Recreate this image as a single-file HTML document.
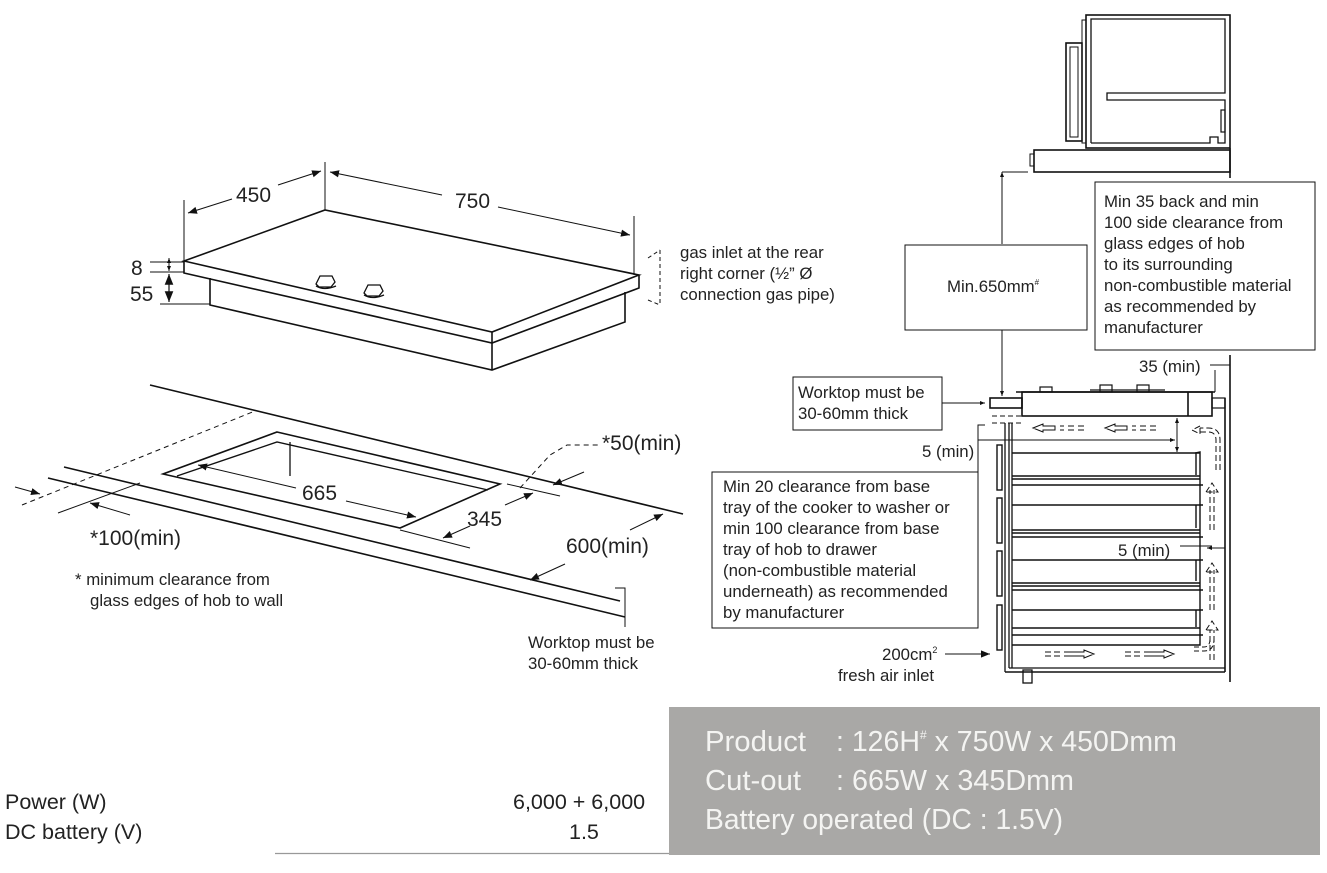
<!DOCTYPE html>
<html><head><meta charset="utf-8"><style>
html,body{margin:0;padding:0;background:#fff;width:1327px;height:873px;overflow:hidden}
svg{display:block}
text{font-family:"Liberation Sans",sans-serif;fill:#222}
</style></head><body>
<svg width="1327" height="873" viewBox="0 0 1327 873" xmlns="http://www.w3.org/2000/svg">
<defs>
<marker id="a" viewBox="0 0 10 10" refX="10" refY="5" markerWidth="9" markerHeight="9" orient="auto-start-reverse"><path d="M0,1 L10,5 L0,9 Z" fill="#111"/></marker>
<marker id="s" viewBox="0 0 10 10" refX="10" refY="5" markerWidth="5" markerHeight="5" orient="auto-start-reverse"><path d="M0,1 L10,5 L0,9 Z" fill="#111"/></marker>
</defs>
<g stroke="#111" stroke-width="1.6" fill="none">
<polygon points="184,261 325,210 639,275 492,332" fill="#fff"/>
<polyline points="184,261 184,273 492,343 639,288 639,275"/>
<line x1="492" y1="332" x2="492" y2="343"/>
<polyline points="210,278 210,305 492,370 625,322 625,292"/>
<line x1="492" y1="343" x2="492" y2="370"/>
<path d="M316,284 l4,-8 h12 l3,6 l-4,5 h-12 z M316,286 q8,5 20,0" stroke-width="1.3"/>
<path d="M364,293 l4,-8 h12 l3,6 l-4,5 h-12 z M364,295 q8,5 20,0" stroke-width="1.3"/>
<line x1="184" y1="200" x2="184" y2="261" stroke-width="1"/>
<line x1="325" y1="162" x2="325" y2="210" stroke-width="1"/>
<line x1="634" y1="216" x2="634" y2="275" stroke-width="1"/>
<line x1="188" y1="213" x2="232" y2="199" stroke-width="1" marker-start="url(#a)"/>
<line x1="278" y1="185" x2="321" y2="171" stroke-width="1" marker-end="url(#a)"/>
<line x1="330" y1="172" x2="442" y2="195" stroke-width="1" marker-start="url(#a)"/>
<line x1="498" y1="207" x2="630" y2="235" stroke-width="1" marker-end="url(#a)"/>
<line x1="150" y1="262" x2="184" y2="262" stroke-width="1"/>
<line x1="150" y1="272" x2="184" y2="272" stroke-width="1"/>
<line x1="160" y1="304" x2="210" y2="304" stroke-width="1"/>
<line x1="169" y1="258" x2="169" y2="271" stroke-width="1" marker-start="url(#s)" marker-end="url(#s)"/>
<line x1="169" y1="274" x2="169" y2="302" stroke-width="1.2" marker-start="url(#a)" marker-end="url(#a)"/>
<path d="M660,250 V305 M648,258 L660,250 M648,300 L660,305" stroke-width="1" stroke-dasharray="4,3"/>
<line x1="150" y1="385" x2="683" y2="514"/>
<line x1="64" y1="467" x2="620" y2="601"/>
<line x1="48" y1="478" x2="625" y2="617"/>
<line x1="22" y1="505" x2="255" y2="411" stroke-width="1" stroke-dasharray="5,4"/>
<polygon points="277,432 500,484 400,528 163,474"/>
<polyline points="177,476 277,442 488,490" stroke-width="1.4"/>
<line x1="290" y1="442" x2="290" y2="476" stroke-width="1.3"/>
<line x1="198" y1="465" x2="296" y2="488" stroke-width="1" marker-start="url(#a)"/>
<line x1="346" y1="501" x2="416" y2="517" stroke-width="1" marker-end="url(#a)"/>
<line x1="400" y1="530" x2="470" y2="548" stroke-width="1"/>
<line x1="507" y1="484" x2="560" y2="496" stroke-width="1"/>
<line x1="443" y1="538" x2="470" y2="526" stroke-width="1" marker-start="url(#a)"/>
<line x1="505" y1="505" x2="533" y2="493" stroke-width="1" marker-end="url(#a)"/>
<path d="M520,488 L550,455 L567,445 H600" stroke-width="1" stroke-dasharray="5,4"/>
<line x1="584" y1="472" x2="553" y2="485" stroke-width="1" marker-end="url(#a)"/>
<line x1="530" y1="580" x2="565" y2="564" stroke-width="1" marker-start="url(#a)"/>
<line x1="630" y1="530" x2="663" y2="514" stroke-width="1" marker-end="url(#a)"/>
<line x1="58" y1="513" x2="140" y2="483" stroke-width="1"/>
<line x1="15" y1="487" x2="40" y2="494" stroke-width="1" marker-end="url(#a)"/>
<line x1="130" y1="515" x2="90" y2="503" stroke-width="1" marker-end="url(#a)"/>
<polyline points="615,588 625,588 625,627" stroke-width="1"/>
<rect x="1086" y="15" width="144" height="133"/>
<polyline points="1091,143 1091,19 1225,19 1225,93 1107,93 1107,100 1225,100 1225,143 1218,143 1218,137 1210,137 1210,143 1091,143" stroke-width="1.3"/>
<rect x="1221" y="110" width="4" height="22" stroke-width="1.2"/>
<rect x="1066" y="43" width="16" height="98"/>
<rect x="1070" y="47" width="8" height="90" stroke-width="1"/>
<rect x="1082" y="20" width="4" height="123" stroke-width="1"/>
<rect x="1034" y="150" width="196" height="22"/>
<rect x="1030" y="154" width="4" height="12" stroke-width="1"/>
<line x1="1230" y1="148" x2="1230" y2="178"/>
<line x1="1002" y1="172" x2="1002" y2="244" stroke-width="1" marker-start="url(#s)"/>
<line x1="1002" y1="172" x2="1028" y2="172" stroke-width="1"/>
<line x1="1002" y1="330" x2="1002" y2="396" stroke-width="1" marker-end="url(#s)"/>
<rect x="905" y="245" width="182" height="85" stroke-width="1"/>
<rect x="1095" y="182" width="220" height="168" stroke-width="1"/>
<line x1="1230" y1="355" x2="1230" y2="682"/>
<line x1="1210" y1="365" x2="1230" y2="365" stroke-width="1"/>
<line x1="1215" y1="370" x2="1215" y2="392" stroke-width="1"/>
<rect x="990" y="398" width="32" height="10"/>
<rect x="1022" y="392" width="190" height="24"/>
<line x1="1016" y1="392" x2="1215" y2="392"/>
<line x1="1188" y1="392" x2="1188" y2="416"/>
<rect x="1040" y="387" width="12" height="5" stroke-width="1.2"/>
<rect x="1100" y="385" width="12" height="7" stroke-width="1.2"/>
<rect x="1137" y="385" width="12" height="7" stroke-width="1.2"/>
<line x1="1090" y1="390" x2="1165" y2="390" stroke-width="1.2"/>
<rect x="1212" y="398" width="13" height="10" stroke-width="1.2"/>
<line x1="1225" y1="398" x2="1225" y2="672"/>
<line x1="1005" y1="672" x2="1225" y2="672"/>
<line x1="1005" y1="423" x2="1005" y2="672" stroke-width="1.3"/>
<line x1="1009" y1="423" x2="1009" y2="668" stroke-width="1.3"/>
<line x1="1012" y1="423" x2="1012" y2="668" stroke-width="1.3"/>
<line x1="1009" y1="668" x2="1225" y2="668" stroke-width="1.3"/>
<line x1="992" y1="416" x2="1022" y2="416" stroke-width="1" stroke-dasharray="5,3"/>
<line x1="992" y1="423" x2="1022" y2="423" stroke-width="1" stroke-dasharray="5,3"/>
<rect x="1023" y="670" width="9" height="13" stroke-width="1.3"/>
<g stroke-width="1.4">
<rect x="997" y="445" width="5" height="45"/><rect x="997" y="498" width="5" height="45"/>
<rect x="997" y="551" width="5" height="45"/><rect x="997" y="605" width="5" height="45"/>
<line x1="1012" y1="453" x2="1200" y2="453"/><line x1="1012" y1="476" x2="1200" y2="476"/><line x1="1012" y1="479" x2="1200" y2="479"/>
<line x1="1012" y1="485" x2="1203" y2="485"/><line x1="1012" y1="505" x2="1203" y2="505"/>
<line x1="1012" y1="530" x2="1200" y2="530"/><line x1="1012" y1="533" x2="1200" y2="533"/>
<line x1="1012" y1="537" x2="1203" y2="537"/><line x1="1012" y1="560" x2="1203" y2="560"/>
<line x1="1012" y1="583" x2="1200" y2="583"/><line x1="1012" y1="586" x2="1200" y2="586"/>
<line x1="1012" y1="590" x2="1203" y2="590"/><line x1="1012" y1="610" x2="1203" y2="610"/>
<line x1="1012" y1="628" x2="1200" y2="628"/><line x1="1012" y1="635" x2="1203" y2="635"/>
<polyline points="1195,453 1200,452 1200,645 1012,645"/>
<line x1="1196" y1="475" x2="1196" y2="453"/><line x1="1196" y1="528" x2="1196" y2="505"/>
<line x1="1196" y1="581" x2="1196" y2="560"/><line x1="1196" y1="627" x2="1196" y2="610"/>
</g>
<line x1="1177" y1="418" x2="1177" y2="452" stroke-width="1" marker-start="url(#s)" marker-end="url(#s)"/>
<g stroke-width="1">
<path d="M1033,428 l10,-4 v2 h12 v4 h-12 v2 z M1060,426 h4 M1060,430 h4 M1068,426 h6 M1068,430 h6 M1078,426 h6 M1078,430 h6"/>
<path d="M1105,428 l10,-4 v2 h12 v4 h-12 v2 z M1132,426 h4 M1132,430 h4 M1140,426 h6 M1140,430 h6 M1150,426 h6 M1150,430 h6"/>
<path d="M1045,652 h6 M1045,656 h6 M1054,652 h6 M1054,656 h6 M1064,652 h20 v-2 l10,4 l-10,4 v-2 h-20"/>
<path d="M1125,652 h6 M1125,656 h6 M1134,652 h6 M1134,656 h6 M1144,652 h20 v-2 l10,4 l-10,4 v-2 h-20"/>
<path d="M1210,660 v-30 M1214,660 v-30 M1206,630 l6,-9 l6,9 z" stroke-dasharray="6,3"/>
<path d="M1210,610 v-40 M1214,610 v-40 M1206,572 l6,-9 l6,9 z" stroke-dasharray="6,3"/>
<path d="M1210,530 v-40 M1214,530 v-40 M1206,492 l6,-9 l6,9 z" stroke-dasharray="6,3"/>
<path d="M1216,470 v-30 q0,-8 -8,-8 h-8 M1220,470 v-30 q0,-12 -12,-12 h-8 M1200,426 l-8,4 l8,4 z" stroke-dasharray="6,3"/>
<path d="M1194,647 h10 q6,0 6,-8 M1194,651 h10 q10,0 10,-12" stroke-dasharray="5,3"/>
</g>
<line x1="1207" y1="548" x2="1225" y2="548" stroke-width="1" marker-start="url(#s)"/>
<line x1="1180" y1="546" x2="1212" y2="546" stroke-width="1"/>
<line x1="942" y1="403" x2="985" y2="403" stroke-width="1" marker-end="url(#s)"/>
<polyline points="978,460 978,425 985,425" stroke-width="1"/>
<polyline points="978,472 978,440 1175,440" stroke-width="1" marker-end="url(#s)"/>
<line x1="945" y1="654" x2="990" y2="654" stroke-width="1" marker-end="url(#a)"/>
<rect x="793" y="377" width="149" height="53" stroke-width="1"/>
<rect x="712" y="472" width="266" height="156" stroke-width="1"/>
</g>
<g font-size="21">
<text x="236" y="202">450</text><text x="455" y="208">750</text>
<text x="131" y="275">8</text><text x="130" y="301">55</text>
<text x="302" y="500">665</text><text x="467" y="526">345</text>
<text x="602" y="450">*50(min)</text><text x="566" y="553">600(min)</text>
<text x="90" y="545">*100(min)</text>
</g>
<g font-size="16.8">
<text x="680" y="258">gas inlet at the rear</text>
<text x="680" y="279">right corner (½” Ø</text>
<text x="680" y="300">connection gas pipe)</text>
<text x="75" y="585">*  minimum clearance from</text>
<text x="90" y="606">glass edges of hob to wall</text>
<text x="528" y="648">Worktop must be</text><text x="528" y="669">30-60mm thick</text>
<text x="798" y="398">Worktop must be</text><text x="798" y="419">30-60mm thick</text>
<text x="947" y="292">Min.650mm<tspan font-size="8" dy="-7">#</tspan></text>
<text x="1104" y="207">Min 35 back and min</text>
<text x="1104" y="228">100 side clearance from</text>
<text x="1104" y="249">glass edges of hob</text>
<text x="1104" y="270">to its surrounding</text>
<text x="1104" y="291">non-combustible material</text>
<text x="1104" y="312">as recommended by</text>
<text x="1104" y="333">manufacturer</text>
<text x="1139" y="372">35 (min)</text>
<text x="922" y="457">5 (min)</text>
<text x="1118" y="556">5 (min)</text>
<text x="723" y="492">Min 20 clearance from base</text>
<text x="723" y="513">tray of the cooker to washer or</text>
<text x="723" y="534">min 100 clearance from base</text>
<text x="723" y="555">tray of hob to drawer</text>
<text x="723" y="576">(non-combustible material</text>
<text x="723" y="597">underneath) as recommended</text>
<text x="723" y="618">by manufacturer</text>
<text x="882" y="660">200cm<tspan font-size="9" dy="-7">2</tspan></text>
<text x="838" y="681">fresh air inlet</text>
</g>
<rect x="669" y="707" width="651" height="148" fill="#a9a8a6"/>
<g font-size="28.5">
<text x="705" y="751" style="fill:#f4f4f2" textLength="101" lengthAdjust="spacingAndGlyphs">Product</text>
<text x="836" y="751" style="fill:#f4f4f2">: 126H<tspan font-size="12" dy="-12">#</tspan><tspan dy="12"> x 750W x 450Dmm</tspan></text>
<text x="705" y="790" style="fill:#f4f4f2" textLength="96" lengthAdjust="spacingAndGlyphs">Cut-out</text>
<text x="836" y="790" style="fill:#f4f4f2" textLength="238" lengthAdjust="spacingAndGlyphs">: 665W x 345Dmm</text>
<text x="705" y="829" style="fill:#f4f4f2" textLength="358" lengthAdjust="spacingAndGlyphs">Battery operated (DC : 1.5V)</text>
</g>
<g font-size="21.5">
<text x="5" y="809">Power (W)</text><text x="513" y="809">6,000 + 6,000</text>
<text x="5" y="839">DC battery (V)</text><text x="569" y="839">1.5</text>
</g>
<line x1="275" y1="853.5" x2="669" y2="853.5" stroke="#999" stroke-width="1.2"/>
</svg>
</body></html>
